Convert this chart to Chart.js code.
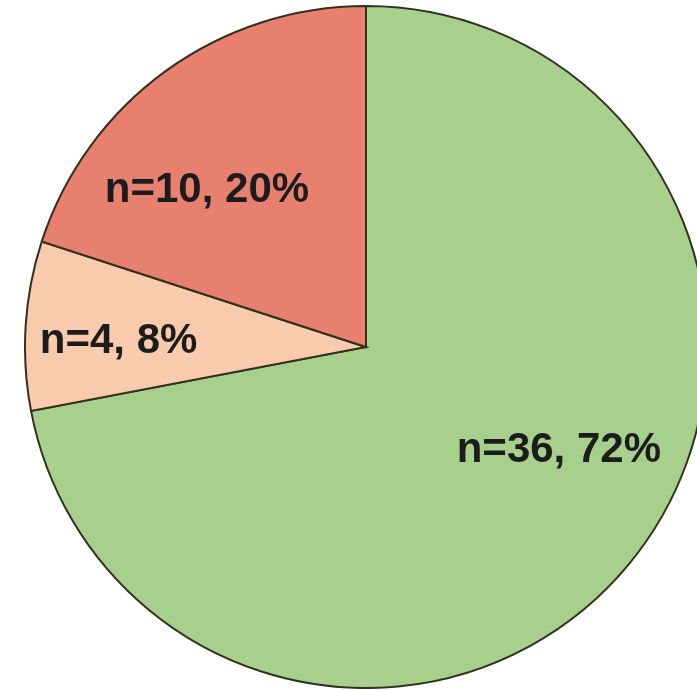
<!DOCTYPE html>
<html>
<head>
<meta charset="utf-8">
<script src="https://cdn.jsdelivr.net/npm/chart.js@4"></script>
<style>
  html, body { margin: 0; padding: 0; background: #fff; overflow: hidden; width: 697px; height: 690px; }
  #wrap { position: absolute; left: 24px; top: 5px; width: 684px; height: 684px; }
</style>
</head>
<body>
<div id="wrap"><canvas id="pie"></canvas></div>
<script>
const categories = ['Green', 'Peach', 'Red'];
const counts = [36, 4, 10];
const percents = [72, 8, 20];
const labels = ['n=36, 72%', 'n=4, 8%', 'n=10, 20%'];

// per-slice label placement: fraction of radius and angle tweak (deg)
const labelPlace = [
  { r: 0.637, a: -12.2 },
  { r: 0.726, a: -1.4 },
  { r: 0.662, a: -8.8 }
];

const sliceLabels = {
  id: 'sliceLabels',
  afterDatasetsDraw(chart) {
    const ctx = chart.ctx;
    const arcs = chart.getDatasetMeta(0).data;
    const size = 42;
    ctx.save();
    ctx.font = 'bold ' + size + 'px "Liberation Sans", Arial, sans-serif';
    ctx.fillStyle = '#1c1c1c';
    ctx.textAlign = 'center';
    ctx.textBaseline = 'alphabetic';
    arcs.forEach(function (arc, i) {
      const p = labelPlace[i];
      const mid = (arc.startAngle + arc.endAngle) / 2 + p.a * Math.PI / 180;
      const rr = arc.outerRadius * p.r;
      const x = arc.x + Math.cos(mid) * rr;
      const y = arc.y + Math.sin(mid) * rr;
      ctx.fillText(labels[i], x, y + 0.358 * size);
    });
    ctx.restore();
  }
};

new Chart(document.getElementById('pie'), {
  type: 'pie',
  plugins: [sliceLabels],
  data: {
    labels: categories,
    datasets: [{
      data: counts,
      backgroundColor: ['#a7d08c', '#f8cbad', '#e8806f'],
      borderColor: '#33301f',
      borderWidth: 2,
      borderJoinStyle: 'miter'
    }]
  },
  options: {
    responsive: true,
    maintainAspectRatio: false,
    animation: false,
    layout: { padding: 0 },
    plugins: {
      legend: { display: false },
      tooltip: { enabled: false }
    }
  }
});
</script>
</body>
</html>
